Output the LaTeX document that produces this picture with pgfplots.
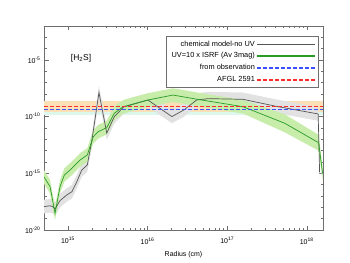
\documentclass[border=0pt]{standalone}
\usepackage{fontspec}
\setmainfont{Liberation Sans}
\usepackage{pgfplots}
\pgfplotsset{compat=1.18}
\usepackage{pgfplotstable}
\definecolor{grayline}{RGB}{85,85,85}
\definecolor{grayband}{RGB}{226,226,226}
\definecolor{greenline}{RGB}{40,155,40}
\definecolor{greenband}{RGB}{200,236,170}
\definecolor{orangeband}{RGB}{251,223,183}
\definecolor{cyanband}{RGB}{220,248,236}
\definecolor{frame}{RGB}{110,110,110}
\definecolor{obsblue}{RGB}{60,80,255}
\definecolor{obsred}{RGB}{255,45,45}

\pgfplotstableread{
x y
5.0e14 1.15e-18
5.96e14 1.38e-18
6.44e14 1.15e-18
6.88e14 7.1e-19
7.94e14 3.9e-18
9.66e14 1.23e-17
1.12e15 2.4e-17
1.29e15 1.8e-16
1.49e15 1.95e-15
1.75e15 5.5e-15
2.0e15 8.7e-13
2.45e15 1.35e-8
3.07e15 3.6e-12
3.82e15 1.0e-10
5.0e15 7.1e-10
1.01e16 2.95e-9
2.02e16 1.02e-10
2.86e16 3.9e-10
4.13e16 2.95e-9
5.76e16 3.9e-9
1.58e17 3.4e-9
3.96e17 8.7e-10
1.39e18 1.74e-10
1.45e18 1.2e-15
}\graydata

\pgfplotstableread{
x y
5.0e14 4.6e-18
5.96e14 5.5e-18
6.44e14 4.6e-18
6.88e14 2.8e-18
7.94e14 1.55e-17
9.66e14 4.9e-17
1.12e15 9.5e-17
1.29e15 7.2e-16
1.49e15 7.8e-15
1.75e15 2.2e-14
2.0e15 3.5e-12
2.45e15 5.4e-8
3.07e15 1.45e-11
3.82e15 4.0e-10
5.0e15 2.8e-9
1.01e16 1.17e-8
2.02e16 4.1e-10
2.86e16 1.55e-9
4.13e16 1.17e-8
5.76e16 1.55e-8
1.58e17 1.35e-8
3.96e17 3.5e-9
1.39e18 6.9e-10
1.45e18 4.8e-15
1.45e18 3.0e-16
1.39e18 4.4e-11
3.96e17 2.2e-10
1.58e17 8.5e-10
5.76e16 9.8e-10
4.13e16 7.4e-10
2.86e16 9.8e-11
2.02e16 2.6e-11
1.01e16 7.4e-10
5.0e15 1.78e-10
3.82e15 2.5e-11
3.07e15 9.1e-13
2.45e15 3.4e-9
2.0e15 2.2e-13
1.75e15 1.38e-15
1.49e15 4.9e-16
1.29e15 4.6e-17
1.12e15 6.0e-18
9.66e14 3.1e-18
7.94e14 9.8e-19
6.88e14 1.78e-19
6.44e14 2.9e-19
5.96e14 3.5e-19
5.0e14 2.9e-19
}\grayband

\pgfplotstableread{
x y
5.0e14 4.8e-16
5.96e14 6.6e-17
6.88e14 2.95e-19
7.94e14 6.6e-17
9.0e14 7.1e-16
1.12e15 2.75e-15
1.42e15 1.5e-14
1.75e15 4.2e-14
2.08e15 1.7e-12
2.4e15 4.7e-12
3.07e15 1.07e-11
3.82e15 2.0e-10
4.95e15 7.6e-10
1.01e16 2.95e-9
2.08e16 8.1e-9
4.78e16 2.95e-9
1.58e17 7.6e-10
5.3e17 2.6e-11
1.41e18 5.0e-13
1.58e18 1.0e-15
}\greendata

\pgfplotstableread{
x y
5.0e14 1.9e-15
5.96e14 2.6e-16
6.88e14 1.17e-18
7.94e14 2.6e-16
9.0e14 2.8e-15
1.12e15 1.1e-14
1.42e15 6.0e-14
1.75e15 1.66e-13
2.08e15 6.8e-12
2.4e15 1.86e-11
3.07e15 4.3e-11
3.82e15 7.9e-10
4.95e15 3.0e-9
1.01e16 1.17e-8
2.08e16 3.2e-8
4.78e16 1.17e-8
1.58e17 3.0e-9
5.3e17 1.6e-10
1.41e18 2.5e-12
1.58e18 4.0e-15
1.58e18 2.5e-16
1.41e18 1.0e-13
5.3e17 4.1e-12
1.58e17 1.9e-10
4.78e16 7.4e-10
2.08e16 2.0e-9
1.01e16 7.4e-10
4.95e15 1.9e-10
3.82e15 5.0e-11
3.07e15 2.7e-12
2.4e15 1.17e-12
2.08e15 4.3e-13
1.75e15 1.05e-14
1.42e15 3.8e-15
1.12e15 6.9e-16
9.0e14 1.78e-16
7.94e14 1.66e-17
6.88e14 7.4e-20
5.96e14 1.66e-17
5.0e14 1.2e-16
}\greenband

\begin{document}
\begin{tikzpicture}
\path[use as bounding box] (-44bp,-33bp) rectangle (306bp,230bp);
\begin{axis}[
  at={(0,0)}, anchor=south west,
  scale only axis, width=279bp, height=204bp,
  xmode=log, ymode=log,
  xmin=5e14, xmax=1.6e18, ymin=1e-20, ymax=1e-2,
  axis line style={frame, line width=0.6pt},
  every tick/.style={frame, line width=0.5pt},
  major tick length=4.5bp, minor tick length=2.5bp,
  tick align=inside,
  xtick={1e15,1e16,1e17,1e18},
  xticklabels={10\textsuperscript{15},10\textsuperscript{16},10\textsuperscript{17},10\textsuperscript{18}},
  ytick={1e-20,1e-15,1e-10,1e-5},
  yticklabels={10\textsuperscript{-20},10\textsuperscript{-15},10\textsuperscript{-10},10\textsuperscript{-5}},
  minor ytick={1e-19,1e-18,1e-17,1e-16,1e-14,1e-13,1e-12,1e-11,1e-9,1e-8,1e-7,1e-6,1e-4,1e-3},
  tick label style={font=\fontsize{7}{8}\selectfont},
  xticklabel style={yshift=-4bp},
  xlabel={Radius (cm)},
  xlabel style={font=\fontsize{7}{8}\selectfont, at={(axis description cs:0.5,0)}, anchor=center, yshift=-25bp},
  legend style={at={(0.982,0.951)}, anchor=north east, draw=frame,
    font=\fontsize{7.4}{8.5}\selectfont, inner xsep=3bp, inner ysep=2.5bp, row sep=1bp},
  legend cell align=right,
  legend plot pos=right,
]
% legend samples (colours fixed inside each sample)
\addlegendimage{legend image code/.code={\fill[grayline] (0bp,-0.35bp) rectangle (57bp,0.35bp);}}
\addlegendentry{chemical model-no UV}
\addlegendimage{legend image code/.code={\fill[greenline] (0bp,-0.35bp) rectangle (57bp,0.35bp);}}
\addlegendentry{UV=10 x ISRF (Av 3mag)}
\addlegendimage{legend image code/.code={\foreach \k in {0,6,12,18,24,30,36,42,48,54} {\fill[obsblue] (\k bp,-0.65bp) rectangle ++(3.5bp,1.3bp);}}}
\addlegendentry{from observation}
\addlegendimage{legend image code/.code={\foreach \k in {0,6,12,18,24,30,36,42,48,54} {\fill[obsred] (\k bp,-0.65bp) rectangle ++(3.5bp,1.3bp);}}}
\addlegendentry{AFGL 2591}
% observation bands
\addplot[draw=none, fill=cyanband, forget plot] coordinates {(5e14,1.4e-10) (1.6e18,1.4e-10) (1.6e18,1.26e-9) (5e14,1.26e-9)};
\addplot[draw=none, fill=orangeband, forget plot] coordinates {(5e14,2.75e-10) (1.6e18,2.75e-10) (1.6e18,2.4e-9) (5e14,2.4e-9)};
% model uncertainty bands
\addplot[draw=none, fill=grayband, forget plot] table[x=x, y=y] {\grayband};
\addplot[draw=none, fill=greenband, forget plot] table[x=x, y=y] {\greenband};
% lines
\addplot[draw=grayline, line width=0.7pt, forget plot] table[x=x, y=y] {\graydata};
\addplot[draw=greenline, line width=0.7pt, forget plot] table[x=x, y=y] {\greendata};
\addplot[draw=obsblue, line width=1.3pt, dash pattern=on 3.5bp off 2.5bp, forget plot] coordinates {(5e14,4.3e-10) (1.6e18,4.3e-10)};
\addplot[draw=obsred, line width=1.3pt, dash pattern=on 3.5bp off 2.5bp, forget plot] coordinates {(5e14,8.0e-10) (1.6e18,8.0e-10)};
\node[font=\fontsize{8.5}{10}\selectfont] at (axis cs:1.46e15,1.5e-5) {[H\textsubscript{2}S]};
\end{axis}
\end{tikzpicture}
\end{document}
